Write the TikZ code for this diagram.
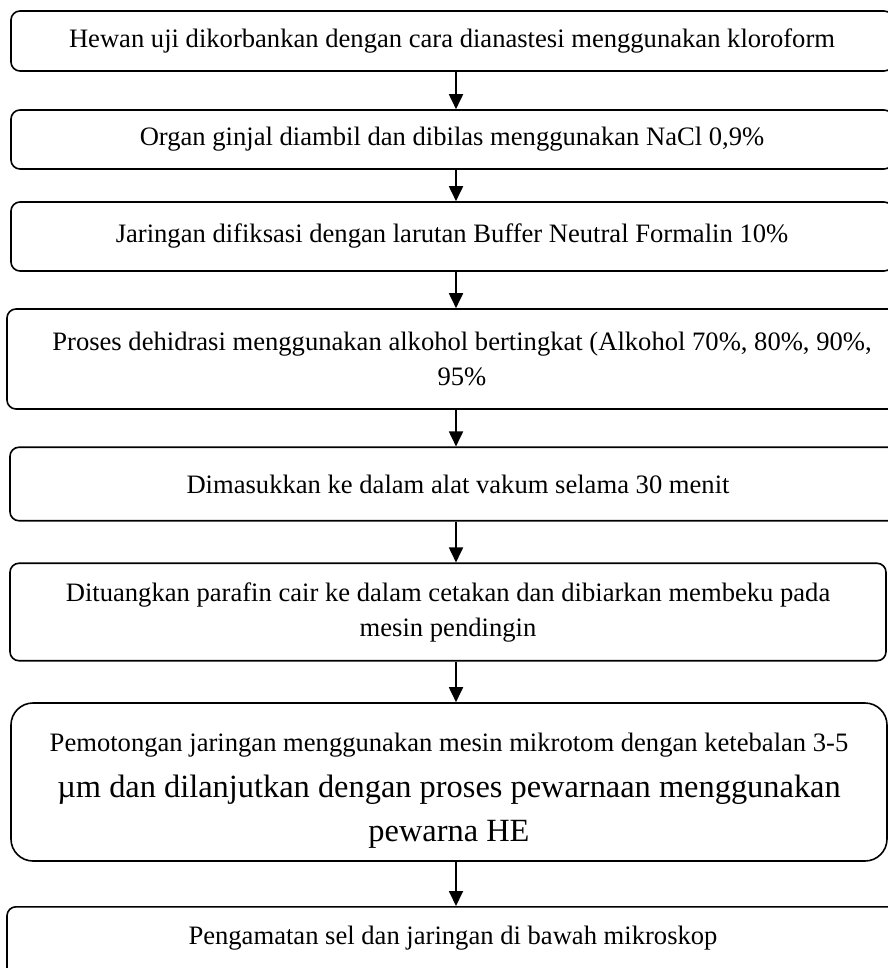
\documentclass[tikz,border=0pt]{standalone}
\usepackage{fontspec}
\setmainfont{Liberation Serif}
\usetikzlibrary{arrows.meta}
\begin{document}
\begin{tikzpicture}[x=1pt,y=-1pt,
  box/.style={draw, line width=1.6pt, rounded corners=9pt, inner sep=0pt, align=center,
    font=\fontsize{26.6}{35}\selectfont},
  arr/.style={line width=1.8pt, -{Triangle[length=15pt,width=14pt]}}]
\useasboundingbox (0,0) rectangle (887,968);
\node[box, minimum width=882pt, minimum height=60pt] (b1) at (452,41)
  {Hewan uji dikorbankan dengan cara dianastesi menggunakan kloroform};
\node[box, minimum width=882pt, minimum height=59pt] (b2) at (452,139.5)
  {Organ ginjal diambil dan dibilas menggunakan NaCl 0,9\%};
\node[box, minimum width=882pt, minimum height=69pt] (b3) at (452,236.5)
  {Jaringan difiksasi dengan larutan Buffer Neutral Formalin 10\%};
\node[box, minimum width=910pt, minimum height=100pt] (b4) at (462,359)
  {Proses dehidrasi menggunakan alkohol bertingkat (Alkohol 70\%, 80\%, 90\%,\\ 95\%};
\node[box, minimum width=896pt, minimum height=73.5pt] (b5) at (458,484)
  {Dimasukkan ke dalam alat vakum selama 30 menit};
\node[box, minimum width=876pt, minimum height=97.5pt] (b6) at (448,612)
  {Dituangkan parafin cair ke dalam cetakan dan dibiarkan membeku pada\\ mesin pendingin};
\node[box, rounded corners=22pt, minimum width=876pt, minimum height=158pt] (b7) at (449,782)
  {\rule{0pt}{36pt}Pemotongan jaringan menggunakan mesin mikrotom dengan ketebalan 3-5\\[11pt]
   {\fontsize{32.4}{46}\selectfont µm dan dilanjutkan dengan proses pewarnaan menggunakan}\\[9pt]
   {\fontsize{32.4}{46}\selectfont pewarna HE}};
\node[box, anchor=north, minimum width=892pt, text height=38pt, text depth=46pt] (b8) at (453,906)
  {Pengamatan sel dan jaringan di bawah mikroskop};
\coordinate (ax) at (456,0);
\draw[arr] (b1.south -| ax) -- (b2.north -| ax);
\draw[arr] (b2.south -| ax) -- (b3.north -| ax);
\draw[arr] (b3.south -| ax) -- (b4.north -| ax);
\draw[arr] (b4.south -| ax) -- (b5.north -| ax);
\draw[arr] (b5.south -| ax) -- (b6.north -| ax);
\draw[arr] (b6.south -| ax) -- (b7.north -| ax);
\draw[arr] (b7.south -| ax) -- (b8.north -| ax);
\end{tikzpicture}
\end{document}
